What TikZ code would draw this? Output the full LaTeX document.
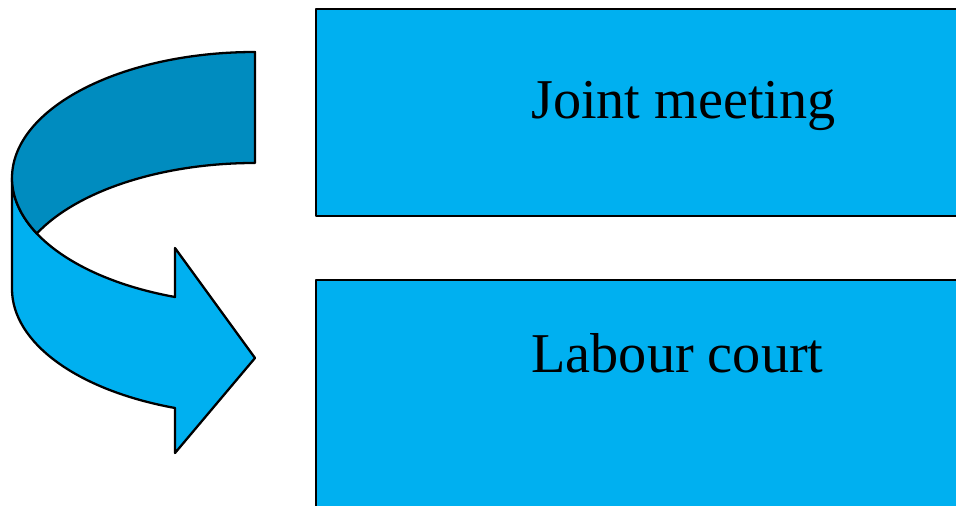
\documentclass[tikz,border=0pt]{standalone}
\usepackage{fontspec}
\setmainfont{Liberation Serif}
\definecolor{ribbonlight}{HTML}{00B0F0}
\definecolor{ribbondark}{HTML}{008CBF}

\begin{document}
\begin{tikzpicture}[x=0.02cm, y=0.02cm, line width=1.3pt, line join=round,
    stagebox/.style={draw=black, fill=ribbonlight, minimum width=14.8cm, inner sep=0pt},
    stagetext/.style={anchor=base, inner sep=0pt, font=\fontsize{32}{38}\selectfont}]
  \useasboundingbox (0,0) rectangle (956,505);
  % kaders
  \node[stagebox, anchor=north west, minimum height=4.15cm] (jointbox) at (315,497.5) {};
  \node[stagebox, anchor=north west, minimum height=6cm] (courtbox) at (315,226) {};
  \node[stagetext] (joint) at (683.5,387) {Joint meeting};
  \node[stagetext] (court) at (677.5,133) {Labour court};
  % lint-pijl (lichte achterkant)
  \draw[fill=ribbonlight] (12,327) -- (12,216)
    arc[start angle=180, end angle=250.78, x radius=243, y radius=126]
    -- (175,52) -- (255,147) -- (175,257) -- (175,208)
    arc[start angle=250.78, end angle=180, x radius=243, y radius=126] -- cycle;
  % donkere bovenkant
  \draw[fill=ribbondark] (255,453)
    arc[start angle=90, end angle=206.13, x radius=243, y radius=126]
    arc[start angle=153.87, end angle=90, x radius=243, y radius=126] -- cycle;
\end{tikzpicture}
\end{document}
